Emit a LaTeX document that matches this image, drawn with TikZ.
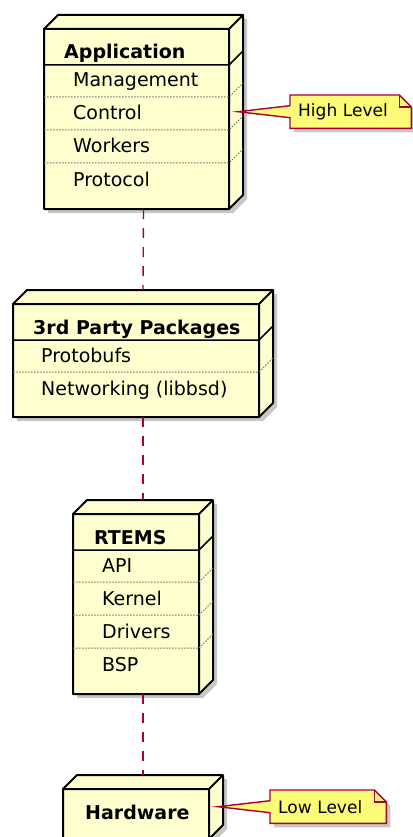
\documentclass[tikz,border=0pt]{standalone}
\usepackage{fontspec}
\setmainfont{DejaVu Sans}
\usetikzlibrary{calc}

\definecolor{nodefill}{HTML}{FEFECE}
\definecolor{notefill}{HTML}{FBFB77}
\definecolor{umlred}{HTML}{A80036}

\pgfdeclarelayer{boxes}
\pgfdeclarelayer{notes}
\pgfsetlayers{boxes,notes,main}

\tikzset{
  face/.style={draw=none, inner sep=0pt, outer sep=0pt, anchor=north west},
  title/.style={anchor=base west, inner sep=0pt, font=\fontsize{19}{23}\selectfont\bfseries},
  item/.style={anchor=base west, inner sep=0pt, font=\fontsize{19}{23}\selectfont},
  shade3d/.style={fill=black!22, draw=none, transform canvas={shift={(4pt,-4pt)}}},
  body3d/.style={draw=black, line width=2pt, fill=nodefill, line join=round},
  edge3d/.style={draw=black, line width=2pt, line join=round},
  sep/.style={draw=black!55, line width=1pt, dash pattern=on 1.5pt off 1.5pt},
  link/.style={draw=umlred, line width=1.4pt, dash pattern=on 10pt off 9pt},
  notetext/.style={anchor=north west, inner xsep=8pt, inner ysep=0pt, align=left,
    minimum height=33pt, font=\fontsize{17}{20}\selectfont},
  noteline/.style={draw=umlred, line width=1.4pt, fill=notefill, line join=miter},
}

\begin{document}
\begin{tikzpicture}[x=1pt, y=-1pt]
\useasboundingbox (0,0) rectangle (412,837);

% front faces
\node[face, minimum width=185pt, minimum height=180pt] (app) at (44,29) {};
\node[face, minimum width=246pt, minimum height=113pt] (pkg) at (13,304) {};
\node[face, minimum width=126pt, minimum height=180pt] (rtems) at (73,514) {};
\node[face, minimum width=146pt, minimum height=50pt] (hw) at (63,789) {};

% titles
\node[title] (app-t) at (64,59) {Application};
\node[title] (pkg-t) at (33,334) {3rd Party Packages};
\node[title] (rtems-t) at (94,544) {RTEMS};
\node[title] (hw-t) at (85,819) {Hardware};

% compartments
\foreach \k/\lab in {0/Management, 1/Control, 2/Workers, 3/Protocol}
  \node[item] (app-\k) at (73,{87+33*\k}) {\lab};
\foreach \k/\lab in {0/Protobufs, 1/Networking (libbsd)}
  \node[item] (pkg-\k) at (41,{362+33*\k}) {\lab};
\foreach \k/\lab in {0/API, 1/Kernel, 2/Drivers, 3/BSP}
  \node[item] (rtems-\k) at (102,{572+33*\k}) {\lab};

% notes
\node[notetext, text width=105pt] (hi) at (290,95) {High Level};
\node[notetext, text width=100pt] (lo) at (270,790) {Low Level};

\begin{pgfonlayer}{boxes}
\foreach \n in {app,pkg,rtems,hw} {
  \path[shade3d] (\n.south west) -- (\n.north west) -- ++(14,-14)
    -- ($(\n.north east)+(14,-14)$) -- ($(\n.south east)+(14,-14)$)
    -- (\n.south east) -- cycle;
  \path[body3d] (\n.south west) -- (\n.north west) -- ++(14,-14)
    -- ($(\n.north east)+(14,-14)$) -- ($(\n.south east)+(14,-14)$)
    -- (\n.south east) -- cycle;
  \draw[edge3d] (\n.north west) -- (\n.north east) -- ++(14,-14)
    (\n.north east) -- (\n.south east);
}
\foreach \n in {app,pkg,rtems}
  \draw[edge3d, line width=1.5pt] ($(\n.north west)+(0,36)$) -- ($(\n.north east)+(0,36)$) -- ++(14,-14);
\foreach \n/\k in {app/0, app/1, app/2, pkg/0, rtems/0, rtems/1, rtems/2}
  \draw[sep] ($(\n.west |- \n-\k.base)+(0,10)$) -- ($(\n.east |- \n-\k.base)+(0,10)$) -- ++(14,-14);
\end{pgfonlayer}

\begin{pgfonlayer}{notes}
\foreach \m/\b in {hi/app, lo/hw} {
  \path[shade3d] (\m.north west) -- ($(\m.north east)+(-12,0)$) -- ($(\m.north east)+(0,12)$)
    -- (\m.south east) -- (\m.south west) -- cycle;
  \path[noteline] (\m.north west) -- ($(\m.north east)+(-12,0)$) -- ($(\m.north east)+(0,12)$)
    -- (\m.south east) -- (\m.south west) -- ($(\m.west)+(0,6)$)
    -- ($(\b.east |- \m.west)+(9,0)$) -- ($(\m.west)+(0,-6)$) -- cycle;
  \draw[umlred, line width=1.4pt] ($(\m.north east)+(-12,0)$) -- ($(\m.north east)+(-12,12)$)
    -- ($(\m.north east)+(0,12)$);
}
\end{pgfonlayer}

% links
\draw[link] ($(app.south)+(7,0)$) -- ($(pkg.north)+(7,-14)$);
\draw[link] ($(pkg.south)+(7,0)$) -- ($(rtems.north)+(7,-14)$);
\draw[link] ($(rtems.south)+(7,0)$) -- ($(hw.north)+(7,-14)$);
\end{tikzpicture}
\end{document}
